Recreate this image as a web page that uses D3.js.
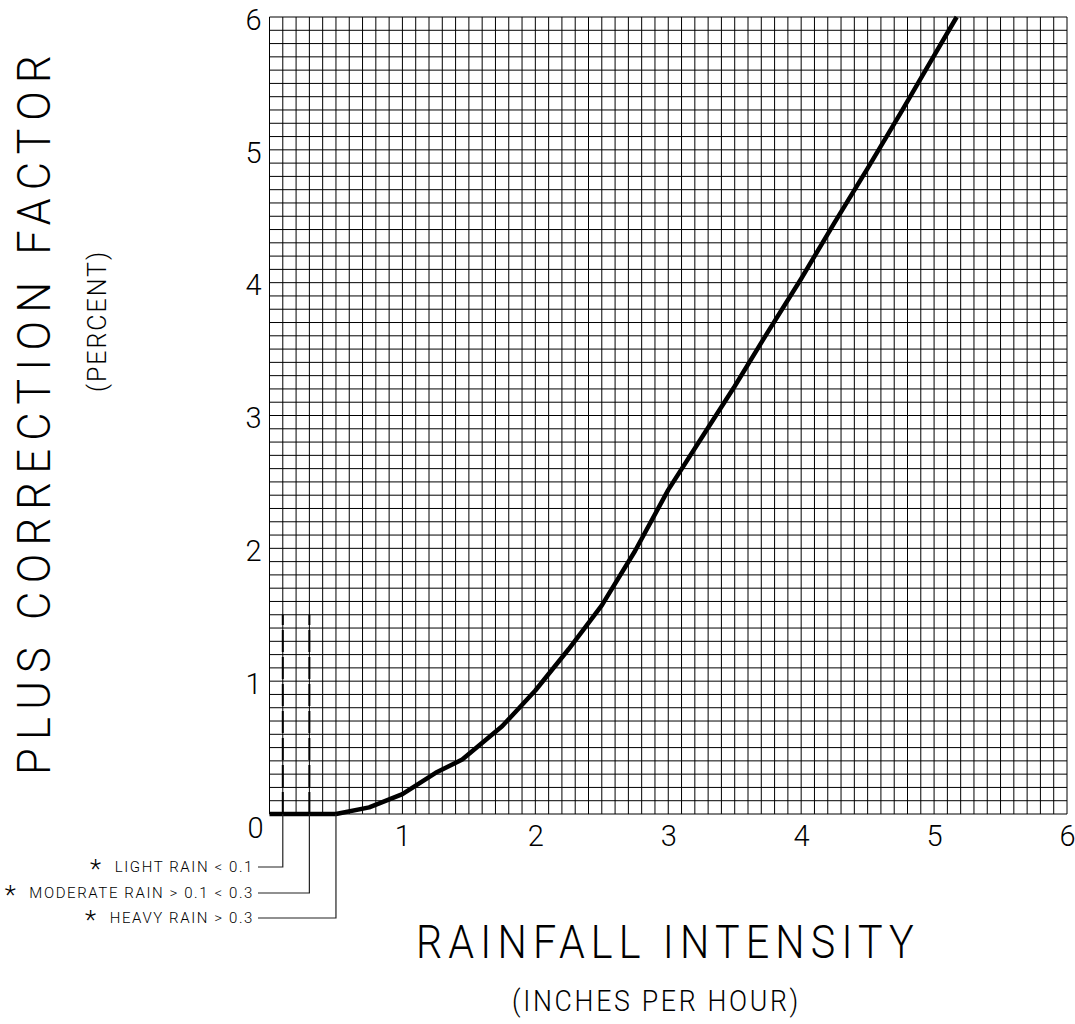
<!DOCTYPE html>
<html>
<head>
<meta charset="utf-8">
<script src="https://cdn.jsdelivr.net/npm/d3@7"></script>
<style>
  body { margin: 0; background: #fff; }
  text { font-family: "Roboto", "DejaVu Sans", sans-serif; font-weight: 300; fill: #000; }
</style>
</head>
<body>
<div id="chart"></div>
<script>
// rainfall intensity (in/hr) vs plus correction factor (%)
var rainX = [0, 0.5, 0.75, 1.0, 1.25, 1.45, 1.75, 2.0, 2.25, 2.5, 2.75, 3.0, 3.25, 3.5, 3.75, 4.0, 4.25, 4.5, 4.75, 5.0, 5.17];
var corrY = [0, 0, 0.05, 0.15, 0.31, 0.41, 0.66, 0.93, 1.24, 1.57, 1.98, 2.44, 2.83, 3.22, 3.63, 4.03, 4.45, 4.86, 5.28, 5.71, 6.0];

var xTicks = [1, 2, 3, 4, 5, 6];
var yTicks = [1, 2, 3, 4, 5, 6];

// rain class limits (dashed markers)
var dashX = [0.1, 0.3];
var dashTop = 1.5;

var noteLabels = ["LIGHT RAIN < 0.1", "MODERATE RAIN > 0.1 < 0.3", "HEAVY RAIN > 0.3"];
var noteX = [0.1, 0.3, 0.5];

var width = 1075;
var height = 1024;
// note: "top" is reserved on window, so plot edges get their own names
var plotL = 269.5, plotR = 1067, plotT = 17, plotB = 814;

var svg = d3.select("#chart")
  .append("svg")
  .attr("width", width)
  .attr("height", height);

var xScale = d3.scaleLinear().domain([0, 6]).range([plotL, plotR]);
var yScale = d3.scaleLinear().domain([0, 6]).range([plotB, plotT]);

// grid, 0.1 steps
var grid = svg.append("g").attr("class", "grid");
var steps = d3.range(0, 61).map(function(i) { return i / 10; });

grid.selectAll("line.v")
  .data(steps)
  .enter()
  .append("line")
  .attr("class", "v")
  .attr("x1", function(d) { return xScale(d); })
  .attr("x2", function(d) { return xScale(d); })
  .attr("y1", yScale(0))
  .attr("y2", yScale(6))
  .attr("stroke", "#000")
  .attr("stroke-width", 1);

grid.selectAll("line.h")
  .data(steps)
  .enter()
  .append("line")
  .attr("class", "h")
  .attr("y1", function(d) { return yScale(d); })
  .attr("y2", function(d) { return yScale(d); })
  .attr("x1", xScale(0))
  .attr("x2", xScale(6))
  .attr("stroke", "#000")
  .attr("stroke-width", 1);

// axes: labels only
var xAxis = d3.axisBottom(xScale).tickValues(xTicks).tickSize(0).tickPadding(11).tickFormat(d3.format("d"));
var yAxis = d3.axisLeft(yScale).tickValues(yTicks).tickSize(0).tickPadding(8).tickFormat(d3.format("d"));

var gx = svg.append("g")
  .attr("transform", "translate(0," + plotB + ")")
  .call(xAxis);
var gy = svg.append("g")
  .attr("transform", "translate(" + plotL + ",0)")
  .call(yAxis);

[gx, gy].forEach(function(g) {
  g.select(".domain").remove();
  g.attr("font-family", null).attr("font-size", null);
  g.selectAll("text")
    .attr("font-size", 29)
    .attr("fill", "#000");
});
gy.selectAll("text").attr("dy", "0.42em");

// shared origin label
svg.append("text")
  .attr("x", xScale(0) - 14)
  .attr("y", yScale(0) + 24)
  .attr("text-anchor", "middle")
  .attr("font-size", 29)
  .text("0");

// dashed class markers
svg.selectAll("line.dash")
  .data(dashX)
  .enter()
  .append("line")
  .attr("class", "dash")
  .attr("x1", function(d) { return xScale(d); })
  .attr("x2", function(d) { return xScale(d); })
  .attr("y1", yScale(0))
  .attr("y2", yScale(dashTop))
  .attr("stroke", "#000")
  .attr("stroke-width", 2)
  .attr("stroke-dasharray", "22,5");

// curve
var line = d3.line()
  .x(function(d, i) { return xScale(rainX[i]); })
  .y(function(d) { return yScale(d); });

svg.append("path")
  .datum(corrY)
  .attr("d", line)
  .attr("fill", "none")
  .attr("stroke", "#000")
  .attr("stroke-width", 4.5)
  .attr("stroke-linejoin", "round");

// leader lines + notes
var noteY = [867, 893, 918];
var noteEnd = 258;

noteLabels.forEach(function(lab, i) {
  var px = xScale(noteX[i]);
  svg.append("path")
    .attr("d", "M" + px + "," + plotB + "V" + noteY[i] + "H" + noteEnd)
    .attr("fill", "none")
    .attr("stroke", "#222")
    .attr("stroke-width", 1.2);
  var t = svg.append("text")
    .attr("x", noteEnd - 4)
    .attr("y", noteY[i] + 5)
    .attr("text-anchor", "end")
    .attr("font-size", 15)
    .attr("letter-spacing", 1.6);
  t.append("tspan")
    .attr("font-size", 26)
    .attr("dy", 6)
    .text("*");
  t.append("tspan")
    .attr("dx", 12)
    .attr("dy", -6)
    .text(lab);
});

// titles
svg.append("text")
  .attr("x", 416)
  .attr("y", 958)
  .attr("font-size", 47)
  .attr("letter-spacing", 7)
  .attr("textLength", 504)
  .attr("lengthAdjust", "spacingAndGlyphs")
  .text("RAINFALL INTENSITY");

svg.append("text")
  .attr("x", 512)
  .attr("y", 1011)
  .attr("font-size", 30)
  .attr("letter-spacing", 3)
  .attr("textLength", 289)
  .attr("lengthAdjust", "spacingAndGlyphs")
  .text("(INCHES PER HOUR)");

svg.append("text")
  .attr("transform", "translate(50,775)rotate(-90)")
  .attr("font-size", 47)
  .attr("letter-spacing", 9)
  .attr("textLength", 728)
  .attr("lengthAdjust", "spacingAndGlyphs")
  .text("PLUS CORRECTION FACTOR");

svg.append("text")
  .attr("transform", "translate(106,392)rotate(-90)")
  .attr("font-size", 26)
  .attr("letter-spacing", 2)
  .attr("textLength", 142)
  .attr("lengthAdjust", "spacingAndGlyphs")
  .text("(PERCENT)");
</script>
</body>
</html>
